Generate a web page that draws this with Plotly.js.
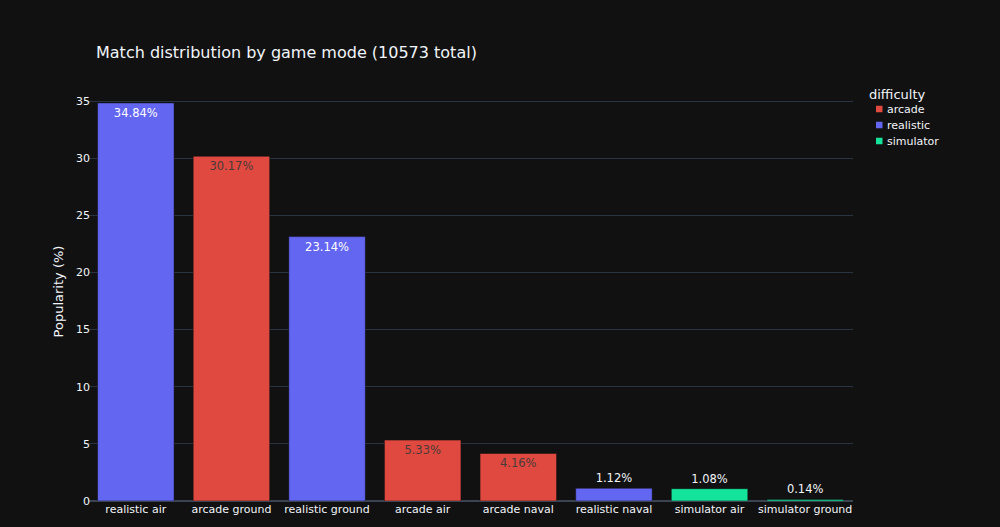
<!DOCTYPE html>
<html>
<head>
<meta charset="utf-8">
<script src="https://cdn.plot.ly/plotly-3.0.1.min.js"></script>
<style>
  html, body { margin: 0; padding: 0; background: #111111; }
  #chart { width: 1000px; height: 580px; }
</style>
</head>
<body>
<div id="chart"></div>
<script>
// Share of matches per game mode, grouped by difficulty
const gameModes = ["realistic air", "arcade ground", "realistic ground", "arcade air",
                   "arcade naval", "realistic naval", "simulator air", "simulator ground"];
const difficulty = ["realistic", "arcade", "realistic", "arcade",
                    "arcade", "realistic", "simulator", "simulator"];
const popularity = [34.84, 30.17, 23.14, 5.33, 4.16, 1.12, 1.08, 0.14];
const totalMatches = 10573;

const difficultyOrder = ["arcade", "realistic", "simulator"];
const difficultyColors = { arcade: "#E0493F", realistic: "#6366F1", simulator: "#14E49B" };
const insideTextColors = { arcade: "#4a3a3a", realistic: "#ffffff", simulator: "#444444" };

const fontFamily = "DejaVu Sans, Verdana, sans-serif";
const W = 1000, H = 580;
const M = { l: 88, r: 147, t: 82, b: 79 };

// One bar trace per difficulty
const barTraces = difficultyOrder.map(d => {
  const idx = gameModes.map((_, i) => i).filter(i => difficulty[i] === d);
  return {
    type: "bar",
    name: d,
    x: idx.map(i => gameModes[i]),
    y: idx.map(i => popularity[i]),
    text: idx.map(i => popularity[i].toFixed(2) + "%"),
    textposition: "auto",
    textfont: { size: 11.5, family: fontFamily },
    insidetextfont: { size: 11.5, family: fontFamily, color: insideTextColors[d] },
    outsidetextfont: { size: 11.5, family: fontFamily, color: "#f2f5fa" },
    marker: { color: difficultyColors[d], line: { color: "#111111", width: 0.5 } },
    showlegend: false,
    hovertemplate: "difficulty=" + d + "<br>Game mode=%{x}<br>Popularity (%)=%{y}<extra></extra>"
  };
});

// Compact legend: title, small square swatches and labels in the right margin
const plotW = W - M.l - M.r, plotH = H - M.t - M.b;
const px2x = p => (p - M.l) / plotW;
const py2y = p => 1 - (p - M.t) / plotH;
const legendLeft = 870, legendTitleY = 94, legendFirstY = 109, legendStep = 16, swatch = 6.5;

const annotations = [{
  xref: "paper", yref: "paper", x: px2x(legendLeft - 3), y: py2y(legendTitleY),
  xanchor: "left", yanchor: "middle", showarrow: false,
  text: "difficulty", font: { size: 13, color: "#f2f5fa" }
}];
const shapes = [];
difficultyOrder.forEach((d, k) => {
  const cy = legendFirstY + k * legendStep;
  annotations.push({
    xref: "paper", yref: "paper", x: px2x(legendLeft + 15), y: py2y(cy),
    xanchor: "left", yanchor: "middle", showarrow: false,
    text: d, font: { size: 11, color: "#f2f5fa" }
  });
  shapes.push({
    type: "rect", xref: "paper", yref: "paper",
    x0: px2x(legendLeft + 6), x1: px2x(legendLeft + 6 + swatch),
    y0: py2y(cy - swatch / 2), y1: py2y(cy + swatch / 2),
    fillcolor: difficultyColors[d], line: { width: 0 }
  });
});

const layout = {
  width: W,
  height: H,
  paper_bgcolor: "#111111",
  plot_bgcolor: "#111111",
  font: { family: fontFamily, color: "#f2f5fa", size: 11 },
  margin: M,
  barmode: "relative",
  bargap: 0.2,
  hovermode: "closest",
  showlegend: false,
  title: {
    text: "Match distribution by game mode (" + totalMatches + " total)",
    font: { size: 16, family: fontFamily, color: "#f2f5fa" },
    x: 0.096, xref: "container", xanchor: "left",
    y: 1 - 52 / H, yref: "container", yanchor: "middle"
  },
  xaxis: {
    title: { text: "Game mode", font: { size: 13 }, standoff: 12 },
    type: "category",
    categoryorder: "array",
    categoryarray: gameModes,
    showgrid: false,
    showline: false,
    zeroline: false,
    ticks: "",
    automargin: false
  },
  yaxis: {
    title: { text: "Popularity (%)", font: { size: 13 }, standoff: 9 },
    range: [0, 36.67],
    gridcolor: "#283442",
    zerolinecolor: "#3a4452",
    zerolinewidth: 1.5,
    showline: false,
    ticks: "",
    dtick: 5,
    ticklabelstandoff: -3,
    automargin: false
  },
  annotations: annotations,
  shapes: shapes
};

Plotly.newPlot("chart", barTraces, layout, { displayModeBar: false, responsive: false });
</script>
</body>
</html>
